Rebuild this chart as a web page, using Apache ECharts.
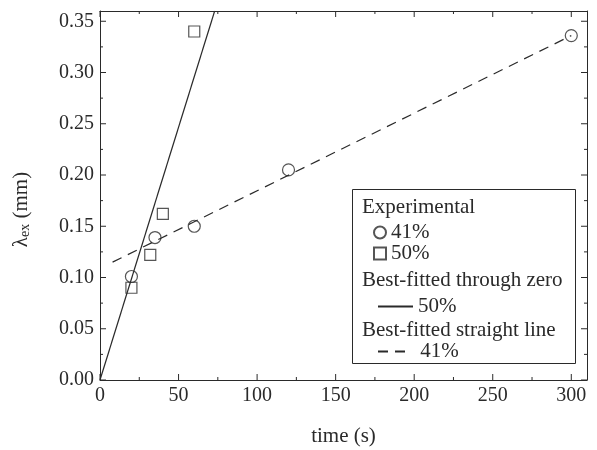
<!DOCTYPE html>
<html>
<head>
<meta charset="utf-8">
<script src="https://cdn.jsdelivr.net/npm/echarts@6/dist/echarts.min.js"></script>
<style>
html, body { margin: 0; padding: 0; background: #fff; }
#main { width: 597px; height: 450px; }
</style>
</head>
<body>
<div id="main"></div>
<script>
// experimental points, 41%
var circTime = [20, 35, 60, 120, 300];
var circLambda = [0.101, 0.139, 0.150, 0.205, 0.336];
// experimental points, 50%
var sqTime = [20, 32, 40, 60];
var sqLambda = [0.090, 0.122, 0.162, 0.340];
// best-fitted through zero (50%), end points
var fitZeroT = [0, 73];
var fitZeroL = [0, 0.36];
// best-fitted straight line (41%), end points
var fitLineT = [8, 300];
var fitLineL = [0.115, 0.336];
// tick positions (major + minor)
var xTicks = [0, 25, 50, 75, 100, 125, 150, 175, 200, 225, 250, 275, 300];
var yTicks = [0, 0.025, 0.05, 0.075, 0.1, 0.125, 0.15, 0.175, 0.2, 0.225, 0.25, 0.275, 0.3, 0.325, 0.35];

var xMax = 310, yMax = 0.36;

function pairs(xs, ys) {
	var out = [];
	for (var i = 0; i < xs.length; i++) out.push([xs[i], ys[i]]);
	return out;
}

var ink = '#2a2a2a';
var serif = 'Liberation Serif';
var names = { circ: '41%', sq: '50%', fit50: '50%', fit41: '41%' };

function frameAxis(extra) {
	var base = {
		axisLine : { show : true, onZero : false, lineStyle : { color : ink, width : 1 } },
		axisTick : { show : false },
		splitLine : { show : false },
		axisLabel : { show : false }
	};
	for (var k in extra) base[k] = extra[k];
	return base;
}

function header(txt, y) {
	return {
		type : 'text', x : 362, y : y, z : 2,
		style : { text : txt, fill : ink, fontFamily : serif, fontSize : 21, verticalAlign : 'middle' }
	};
}

function tickLine(x1, y1, x2, y2) {
	return { type : 'line', shape : { x1 : x1, y1 : y1, x2 : x2, y2 : y2 },
		style : { stroke : ink, lineWidth : 1 } };
}

// inward ticks on bottom and top
function renderXTicks(params, api) {
	var v = api.value(0);
	var len = (v % 50 === 0) ? 6 : 3;
	var b = api.coord([v, 0]), t = api.coord([v, yMax]);
	return { type : 'group', children : [
		tickLine(b[0], b[1], b[0], b[1] - len),
		tickLine(t[0], t[1], t[0], t[1] + len)
	] };
}

// inward ticks on left and right
function renderYTicks(params, api) {
	var v = api.value(1);
	var len = (Math.round(v * 1000) % 50 === 0) ? 6 : 3;
	var l = api.coord([0, v]), r = api.coord([xMax, v]);
	return { type : 'group', children : [
		tickLine(l[0], l[1], l[0] + len, l[1]),
		tickLine(r[0], r[1], r[0] - len, r[1])
	] };
}

var myChart = echarts.init(document.getElementById('main'));

myChart.setOption({
	animation : false,
	grid : { left : 100, right : 10, top : 11, bottom : 70, outerBoundsMode : 'none' },
	xAxis : [ frameAxis({
		type : 'value', min : 0, max : xMax, interval : 50,
		name : 'time (s)', nameLocation : 'middle', nameGap : 46,
		nameTextStyle : { color : ink, fontFamily : serif, fontSize : 21 },
		axisLabel : { color : ink, fontFamily : serif, fontSize : 20, margin : 6,
			showMaxLabel : false }
	}), frameAxis({
		type : 'value', min : 0, max : xMax, interval : 50, position : 'top'
	}) ],
	yAxis : [ frameAxis({
		type : 'value', min : 0, max : yMax, interval : 0.05,
		name : '{l|λ}{s|ex}{l| (mm)}', nameLocation : 'middle', nameGap : 68,
		nameTextStyle : {
			padding : [0, 28, 0, 0],
			rich : {
				l : { color : ink, fontFamily : serif, fontSize : 21 },
				s : { color : ink, fontFamily : serif, fontSize : 14, padding : [8, 0, 0, 0] }
			}
		},
		axisLabel : { color : ink, fontFamily : serif, fontSize : 20, margin : 6,
			showMaxLabel : false,
			formatter : function (v) { return v.toFixed(2); } }
	}), frameAxis({
		type : 'value', min : 0, max : yMax, interval : 0.05, position : 'right'
	}) ],
	legend : [ {
		data : ['circ', 'sq'], orient : 'vertical', left : 368, top : 217,
		itemWidth : 12, itemHeight : 12, itemGap : 0,
		formatter : function (n) { return names[n]; },
		textStyle : { color : ink, fontFamily : serif, fontSize : 21 }
	}, {
		data : ['fit50'], left : 372, top : 291,
		itemWidth : 35, itemHeight : 10,
		itemStyle : { opacity : 0 },
		formatter : function (n) { return names[n]; },
		textStyle : { color : ink, fontFamily : serif, fontSize : 21 }
	}, {
		data : ['fit41'], left : 372, top : 336,
		itemWidth : 32, itemHeight : 10,
		itemStyle : { opacity : 0 },
		formatter : function (n) { return ' ' + names[n]; },
		textStyle : { color : ink, fontFamily : serif, fontSize : 21 }
	} ],
	graphic : [ {
		type : 'rect', left : 352, top : 189, z : 1,
		shape : { width : 223, height : 174 },
		style : { fill : '#fff', stroke : ink, lineWidth : 1 }
	},
		header('Experimental', 207),
		header('Best-fitted through zero', 280),
		header('Best-fitted straight line', 330)
	],
	series : [ {
		name : 'xticks', type : 'custom', renderItem : renderXTicks, clip : false,
		data : xTicks.map(function (v) { return [v, 0]; }), silent : true, z : 5
	}, {
		name : 'yticks', type : 'custom', renderItem : renderYTicks, clip : false,
		data : yTicks.map(function (v) { return [0, v]; }), silent : true, z : 5
	}, {
		name : 'fit50', type : 'line', data : pairs(fitZeroT, fitZeroL),
		symbol : 'none', itemStyle : { color : ink },
		lineStyle : { color : ink, width : 1.2 }, z : 3
	}, {
		name : 'fit41', type : 'line', data : pairs(fitLineT, fitLineL),
		symbol : 'none', itemStyle : { color : ink },
		lineStyle : { color : ink, width : 1.2, type : [10, 7] }, z : 3
	}, {
		name : 'circ', type : 'scatter', data : pairs(circTime, circLambda),
		symbol : 'circle', symbolSize : 12,
		itemStyle : { color : 'rgba(255,255,255,0)', borderColor : ink, borderWidth : 1.2 }, z : 4
	}, {
		name : 'sq', type : 'scatter', data : pairs(sqTime, sqLambda),
		symbol : 'rect', symbolSize : 11,
		itemStyle : { color : 'rgba(255,255,255,0)', borderColor : ink, borderWidth : 1.2 }, z : 4
	} ]
});
</script>
</body>
</html>
